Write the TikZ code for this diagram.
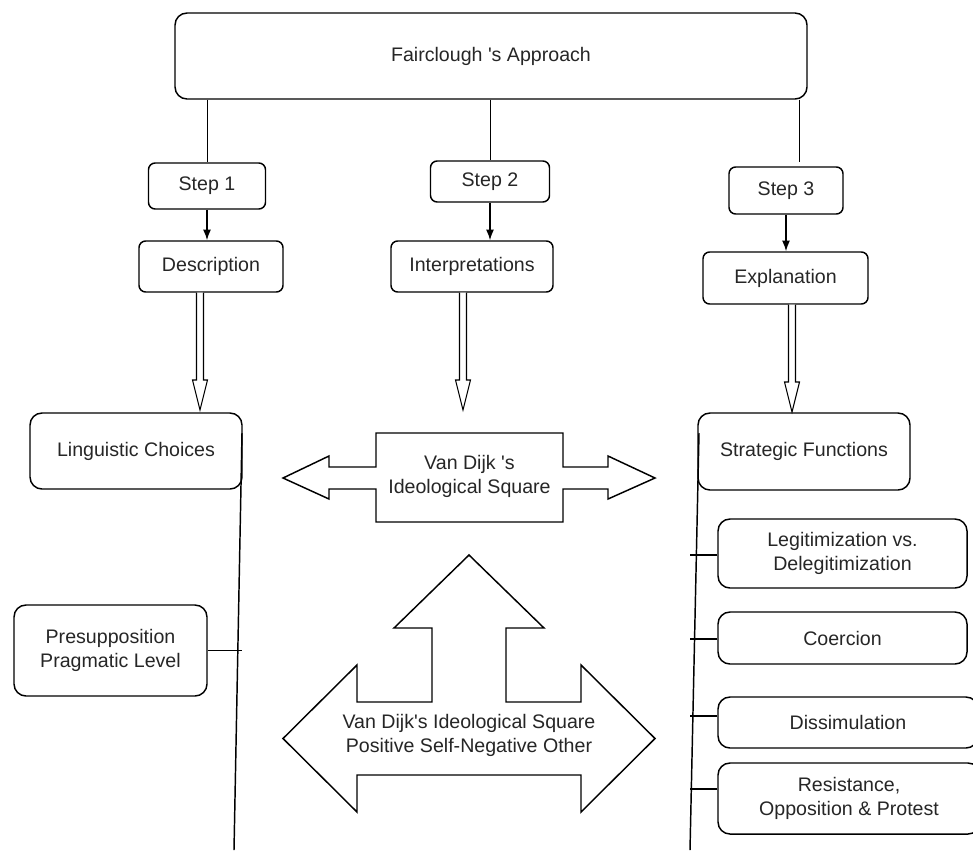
\documentclass[tikz,border=0pt]{standalone}
\usepackage{fontspec}
\setmainfont{Liberation Sans}
\usetikzlibrary{positioning, calc, arrows.meta}

% open double-stroke arrow from a start point down to its tip
\newcommand{\hollowarrow}[2]{%
  \draw[fill=white] ($(#1)+(-3.5,0)$) -- ($(#2)+(-3.5,-30)$) -- ($(#2)+(-7.5,-30)$) -- (#2)
    -- ($(#2)+(7.5,-30)$) -- ($(#2)+(3.5,-30)$) -- ($(#1)+(3.5,0)$);}

\begin{document}
\begin{tikzpicture}[x=0.75pt, y=-0.75pt, line width=0.8pt,
  every node/.style={font=\fontsize{14.7}{18}\selectfont, text=black!85, align=center},
  stepbox/.style={draw, text=black!85, line width=1.1pt, rounded corners=5pt, inner sep=0pt},
  bigbox/.style={draw, text=black!85, line width=1.1pt, rounded corners=9pt, inner sep=0pt},
  flow/.style={-{Latex[length=8pt,width=6pt]}, line width=1.1pt}]
\useasboundingbox (0,0) rectangle (973,850);

\node (approach) at (491,56) [bigbox, minimum width=474pt, minimum height=64.5pt] {Fairclough \textquotesingle s Approach};

\node (step1) at (207,186) [stepbox, minimum width=87.75pt, minimum height=34.5pt] {Step 1};
\node (step2) at (490,181.5) [stepbox, minimum width=89.25pt, minimum height=30.75pt] {Step 2};
\node (step3) at (786,190.5) [stepbox, minimum width=85.5pt, minimum height=35.25pt] {Step 3};

\node (desc) at (211,266.5) [stepbox, minimum width=108pt, minimum height=38.25pt] {Description};
\node (interp) at (472,266.5) [stepbox, minimum width=121.5pt, minimum height=38.25pt] {Interpretations};
\node (expl) at (785.5,278) [stepbox, minimum width=123.75pt, minimum height=39pt] {Explanation};

\node (ling) at (136,451) [bigbox, minimum width=159pt, minimum height=57pt] {Linguistic Choices};
\node (presup) at (110.5,650.5) [bigbox, minimum width=144.75pt, minimum height=68.25pt] {Presupposition\\Pragmatic Level};

\node (strat) at (804,451.5) [bigbox, minimum width=159pt, minimum height=57.75pt] {Strategic Functions};
\node (legit) at (842.5,553.5) [bigbox, minimum width=186.75pt, minimum height=51.75pt] {Legitimization vs.\\Delegitimization};
\node (coerc) at (842.5,638) [bigbox, minimum width=186.75pt, minimum height=39pt] {Coercion};
\node (dissim) at (848,722.5) [bigbox, minimum width=195pt, minimum height=38.25pt] {Dissimulation};
\node (resist) at (849,798.5) [bigbox, minimum width=196.5pt, minimum height=53.25pt] {Resistance,\\Opposition \& Protest};

% ideological square block arrow
\draw[line width=1.1pt, fill=white] (376,433) -- (563,433) -- (563,467) -- (608,467) -- (608,456) -- (655,478)
  -- (608,499) -- (608,489) -- (563,489) -- (563,522) -- (376,522) -- (376,489) -- (329,489)
  -- (329,499) -- (283,478) -- (329,456) -- (329,467) -- (376,467) -- cycle;
\node (square) at (469.5,476.5) {Van Dijk \textquotesingle s\\Ideological Square};

% three-way block arrow
\draw[line width=1.1pt, fill=white] (469,555) -- (544,628) -- (506,628) -- (506,702) -- (581,702) -- (581,665)
  -- (655,738.5) -- (581,812) -- (581,775) -- (357,775) -- (357,812) -- (283,738.5) -- (357,665)
  -- (357,702) -- (432,702) -- (432,628) -- (394,628) -- cycle;
\node (vds) at (469,735) {Van Dijk\textquotesingle s Ideological Square\\Positive Self-Negative Other};

\coordinate (end3) at (799,162);
\draw[line width=0.6pt] (approach.south -| step1.north) -- (step1.north);
\draw[line width=0.6pt] (approach.south -| step2.north) -- (step2.north);
\draw[line width=0.6pt] (approach.south -| end3) -- (end3);

\draw[flow] (step1.south) -- (step1.south |- desc.north);
\draw[flow] (step2.south) -- (step2.south |- interp.north);
\draw[flow] (step3.south) -- (step3.south |- expl.north);

\coordinate (tip1) at (200,410);
\coordinate (tip2) at (463,410);
\coordinate (tip3) at (792,412);
\hollowarrow{desc.south -| tip1}{tip1}
\hollowarrow{interp.south -| tip2}{tip2}
\hollowarrow{expl.south -| tip3}{tip3}

\coordinate (ltop) at (242,433);
\coordinate (lbot) at (234,850);
\draw[line width=1.1pt] (ltop) -- (lbot);
\draw (presup.east) -- (presup.east -| ltop);

\coordinate (rtop) at (699,433);
\coordinate (rbot) at (690,850);
\draw[line width=1.1pt] (rtop) -- (rbot);
\foreach \n/\d in {legit/1.5, coerc/1, dissim/-6.5, resist/-9.5}
  \draw ($(\n.west)+(0,\d)$) -- ++(-27,0);
\end{tikzpicture}
\end{document}
